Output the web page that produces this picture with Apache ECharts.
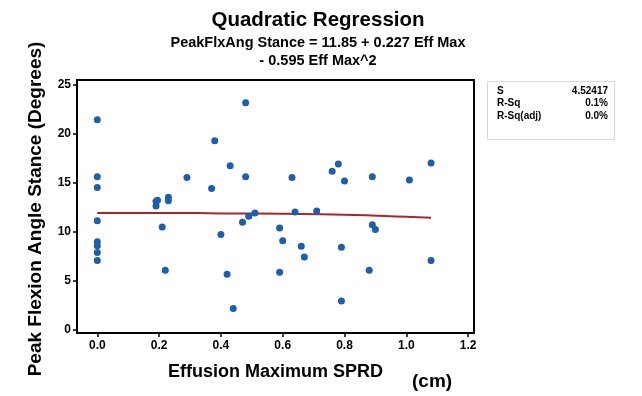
<!DOCTYPE html>
<html>
<head>
<meta charset="utf-8">
<script src="https://cdn.jsdelivr.net/npm/echarts@6/dist/echarts.min.js"></script>
<style>
html,body{margin:0;padding:0;background:#fff;}
#c{width:642px;height:396px;}
</style>
</head>
<body>
<div id="c"></div>
<script>
// Effusion Maximum SPRD (cm)
const effMax = [0,0,0,0,0,0,0,0,0.19,0.19,0.195,0.21,0.22,0.23,0.23,0.29,0.37,0.38,0.40,0.42,0.43,0.44,0.47,0.48,0.48,0.49,0.51,0.59,0.60,0.59,0.63,0.64,0.66,0.67,0.71,0.76,0.78,0.79,0.79,0.80,0.88,0.89,0.89,0.90,1.01,1.08,1.08];
// Peak Flexion Angle Stance (Degrees)
const peakFlex = [21.45,15.65,14.55,11.15,9.0,8.6,7.9,7.1,12.65,13.15,13.25,10.5,6.1,13.55,13.2,15.55,14.45,19.3,9.75,5.7,16.75,2.2,11.0,23.2,15.65,11.6,11.95,10.4,9.1,5.9,15.55,12.05,8.55,7.45,12.15,16.2,16.95,8.45,2.95,15.2,6.1,15.65,10.75,10.25,15.3,17.05,7.1];
// Fitted quadratic curve
const fitX = [0,0.2,0.4,0.6,0.8,1.0,1.08];
const fitY = [11.95,11.95,11.9,11.85,11.75,11.55,11.45];
const xTicks = [0,0.2,0.4,0.6,0.8,1.0,1.2];
const yTicks = [0,5,10,15,20,25];
const titleText = 'Quadratic Regression';
const subText = 'PeakFlxAng Stance = 11.85 + 0.227 Eff Max\n- 0.595 Eff Max^2';
const statLabels = ['S','R-Sq','R-Sq(adj)'];
const statValues = ['4.52417','0.1%','0.0%'];

const FONT = '"Liberation Sans", Arial, sans-serif';
const chart = echarts.init(document.getElementById('c'), null, {renderer:'canvas'});

const graphics = [
  {type:'rect', left:487, top:81, shape:{width:127, height:58}, style:{fill:'#fff', stroke:'#d8d8d8', lineWidth:1}}
];
statLabels.forEach((s,i)=>{
  graphics.push({type:'text', left:497, top:86+i*12.5, style:{text:s, font:'bold 10px '+FONT, fill:'#000'}});
  graphics.push({type:'text', right:642-608, top:86+i*12.5, style:{text:statValues[i], font:'bold 10px '+FONT, fill:'#000', textAlign:'right'}});
});
graphics.push({type:'text', left:412, top:372, style:{text:'(cm)', font:'bold 19px '+FONT, fill:'#000'}});

chart.setOption({
  animation:false,
  backgroundColor:'#fff',
  title:{
    text:titleText, subtext:subText, left:313, top:5, textAlign:'center', itemGap:3,
    textStyle:{fontFamily:FONT, fontWeight:'bold', fontSize:20.5, color:'#000'},
    subtextStyle:{fontFamily:FONT, fontWeight:'bold', fontSize:14.5, color:'#000', lineHeight:18, align:'center'}
  },
  grid:{left:77, top:80, width:397, height:253, show:true, borderColor:'#000', borderWidth:2, backgroundColor:'#fff'},
  xAxis:{
    type:'value', min:-0.0657, max:1.219,
    name:'Effusion Maximum SPRD', nameLocation:'middle', nameGap:30,
    nameTextStyle:{fontFamily:FONT, fontWeight:'bold', fontSize:18, color:'#000'},
    axisLine:{show:true, onZero:false, lineStyle:{color:'#000', width:2}},
    axisTick:{show:true, customValues:xTicks, length:4, lineStyle:{color:'#000', width:1.5}},
    axisLabel:{customValues:xTicks, formatter:v=>v.toFixed(1), fontFamily:FONT, fontWeight:'bold', fontSize:12, color:'#000', margin:7},
    splitLine:{show:false}
  },
  yAxis:{
    type:'value', min:-0.306, max:25.51,
    name:'Peak Flexion Angle Stance (Degrees)', nameLocation:'middle', nameGap:32,
    nameTextStyle:{fontFamily:FONT, fontWeight:'bold', fontSize:19, color:'#000', padding:[0,5,0,0]},
    axisLine:{show:true, onZero:false, lineStyle:{color:'#000', width:2}},
    axisTick:{show:true, customValues:yTicks, length:4, lineStyle:{color:'#000', width:1.5}},
    axisLabel:{customValues:yTicks, formatter:v=>String(Math.round(v)), fontFamily:FONT, fontWeight:'bold', fontSize:12, color:'#000', margin:6},
    splitLine:{show:false}
  },
  series:[
    {type:'line', data:fitX.map((x,i)=>[x,fitY[i]]), smooth:true, showSymbol:false, lineStyle:{color:'#a8272d', width:2}, z:2},
    {type:'scatter', data:effMax.map((x,i)=>[x,peakFlex[i]]), symbolSize:7, itemStyle:{color:'#1d5fae', opacity:1}, z:3}
  ],
  graphic:graphics
});
</script>
</body>
</html>
